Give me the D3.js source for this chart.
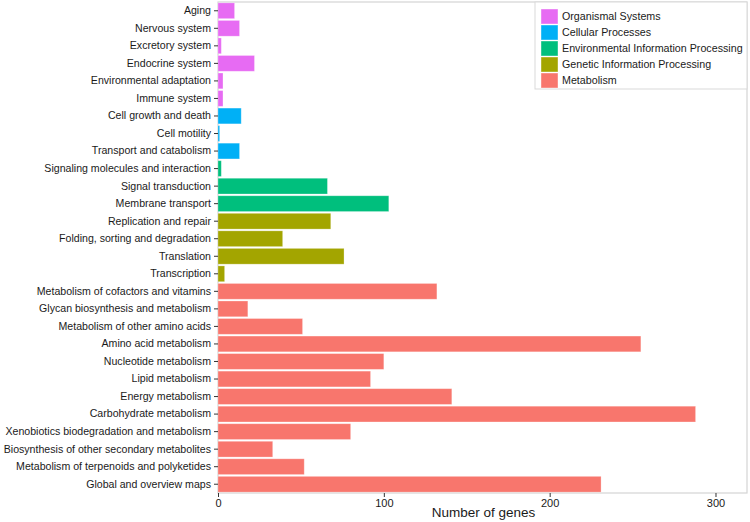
<!DOCTYPE html>
<html>
<head>
<meta charset="utf-8">
<script src="https://cdn.jsdelivr.net/npm/d3@7"></script>
<style>
  html, body { margin: 0; padding: 0; background: #fff; }
  svg { display: block; font-family: "Liberation Sans", Arial, sans-serif; }
</style>
</head>
<body>
<svg id="chart" width="750" height="522"></svg>
<script>
const categories = [
  "Aging", "Nervous system", "Excretory system", "Endocrine system",
  "Environmental adaptation", "Immune system",
  "Cell growth and death", "Cell motility", "Transport and catabolism",
  "Signaling molecules and interaction", "Signal transduction", "Membrane transport",
  "Replication and repair", "Folding, sorting and degradation", "Translation", "Transcription",
  "Metabolism of cofactors and vitamins", "Glycan biosynthesis and metabolism",
  "Metabolism of other amino acids", "Amino acid metabolism", "Nucleotide metabolism",
  "Lipid metabolism", "Energy metabolism", "Carbohydrate metabolism",
  "Xenobiotics biodegradation and metabolism", "Biosynthesis of other secondary metabolites",
  "Metabolism of terpenoids and polyketides", "Global and overview maps"
];
const values = [10, 13, 2, 22, 3, 3, 14, 1, 13, 2, 66, 103, 68, 39, 76, 4,
                132, 18, 51, 255, 100, 92, 141, 288, 80, 33, 52, 231];
const groups = [
  "Organismal Systems", "Organismal Systems", "Organismal Systems", "Organismal Systems",
  "Organismal Systems", "Organismal Systems",
  "Cellular Processes", "Cellular Processes", "Cellular Processes",
  "Environmental Information Processing", "Environmental Information Processing", "Environmental Information Processing",
  "Genetic Information Processing", "Genetic Information Processing", "Genetic Information Processing", "Genetic Information Processing",
  "Metabolism", "Metabolism", "Metabolism", "Metabolism", "Metabolism", "Metabolism",
  "Metabolism", "Metabolism", "Metabolism", "Metabolism", "Metabolism", "Metabolism"
];
const legendLabels = ["Organismal Systems", "Cellular Processes", "Environmental Information Processing",
                      "Genetic Information Processing", "Metabolism"];
const legendColors = ["#E76BF3", "#00B0F6", "#00BF7D", "#A3A500", "#F8766D"];
const xTicks = [0, 100, 200, 300];
const xTitle = "Number of genes";

const data = categories.map((c, i) => ({ cat: c, value: values[i], group: groups[i] }));

const svg = d3.select("#chart");
const pLeft = 218, pRight = 747, pTop = 2, pBottom = 493;

const x = d3.scaleLinear().domain([0, 319]).range([pLeft, pRight]);
const y = d3.scaleBand().domain(categories).range([pTop, pBottom]).paddingInner(0.1).paddingOuter(0.05);
const color = d3.scaleOrdinal().domain(legendLabels).range(legendColors);

// panel background and border
svg.append("rect")
  .attr("x", pLeft).attr("y", pTop)
  .attr("width", pRight - pLeft).attr("height", pBottom - pTop)
  .attr("fill", "#fff").attr("stroke", "#d4d4d4").attr("stroke-width", 1.2);

// bars
svg.append("g").selectAll("rect")
  .data(data).join("rect")
  .attr("x", x(0))
  .attr("y", d => y(d.cat))
  .attr("width", d => x(d.value) - x(0))
  .attr("height", y.bandwidth())
  .attr("fill", d => color(d.group))
  .attr("stroke", "rgba(255,255,255,0.35)")
  .attr("stroke-width", 0.8);

// y axis
const yAxis = svg.append("g")
  .attr("transform", `translate(${pLeft},0)`)
  .call(d3.axisLeft(y).tickSize(4).tickPadding(3));
yAxis.select(".domain").remove();
yAxis.selectAll(".tick line").attr("stroke", "#333");
yAxis.selectAll(".tick text").attr("fill", "#1a1a1a").style("font-size", "10.6px");

// x axis
const xAxis = svg.append("g")
  .attr("transform", `translate(0,${pBottom})`)
  .call(d3.axisBottom(x).tickValues(xTicks).tickFormat(d3.format("d")).tickSize(4).tickPadding(2));
xAxis.select(".domain").remove();
xAxis.selectAll(".tick line").attr("stroke", "#333");
xAxis.selectAll(".tick text").attr("fill", "#1a1a1a").style("font-size", "11px");

svg.append("text")
  .attr("x", (pLeft + pRight) / 2 + 1)
  .attr("y", 517)
  .attr("text-anchor", "middle")
  .attr("fill", "#1a1a1a")
  .style("font-size", "13.5px")
  .text(xTitle);

// legend
const lg = svg.append("g");
lg.append("rect")
  .attr("x", 535).attr("y", pTop)
  .attr("width", pRight - 535).attr("height", 87)
  .attr("fill", "#fff").attr("stroke", "#d9d9d9").attr("stroke-width", 1);
legendLabels.forEach((lab, i) => {
  const yy = 9 + i * 16;
  lg.append("rect")
    .attr("x", 541).attr("y", yy)
    .attr("width", 17).attr("height", 15)
    .attr("fill", legendColors[i])
    .attr("stroke", "rgba(255,255,255,0.5)").attr("stroke-width", 0.8);
  lg.append("text")
    .attr("x", 562).attr("y", yy + 7.5)
    .attr("dy", "0.35em")
    .attr("fill", "#1a1a1a")
    .style("font-size", "10.7px")
    .text(lab);
});
</script>
</body>
</html>
